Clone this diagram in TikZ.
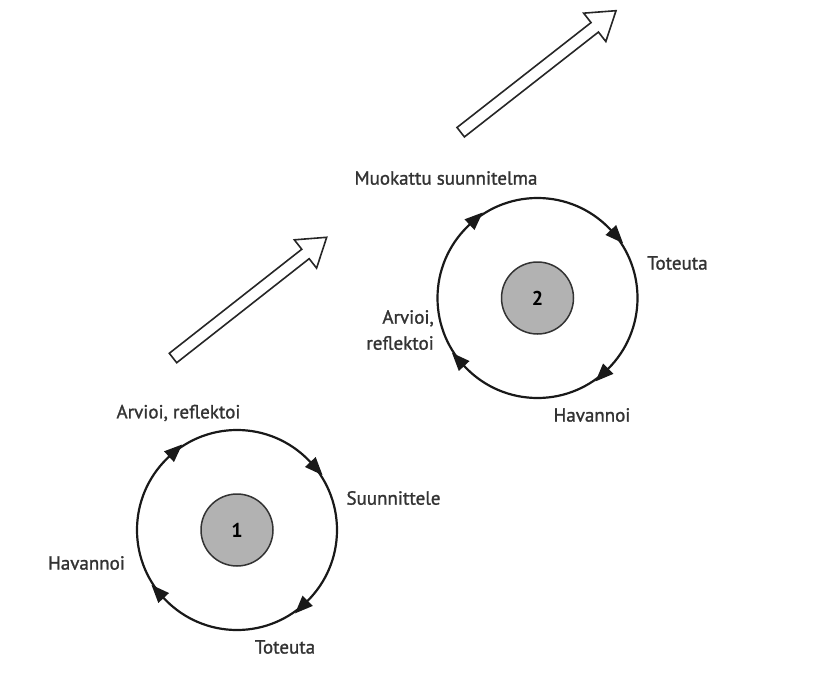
\documentclass[tikz,border=0pt]{standalone}
\usepackage{fontspec}
\setmainfont{PT Sans}
\newfontfamily\lblfont{PT Sans}[FakeBold=1.3]
\usetikzlibrary{calc,arrows.meta,decorations.markings}
\tikzset{
  lbl/.style={font=\lblfont\fontsize{19}{24}\selectfont, text=black!80, inner sep=0pt},
  hub/.style={circle, draw=black!80, line width=1.5pt, fill=black!30, minimum size=72pt, inner sep=0pt, font=\bfseries\fontsize{20}{24}\selectfont},
  cycleline/.style={line width=2.2pt, draw=black!90,
    postaction={decorate},
    decoration={markings,
      mark=at position 0.119 with {\arrow{Triangle[length=18pt,width=14pt,reversed]}},
      mark=at position 0.369 with {\arrow{Triangle[length=18pt,width=14pt,reversed]}},
      mark=at position 0.619 with {\arrow{Triangle[length=18pt,width=14pt,reversed]}},
      mark=at position 0.875 with {\arrow{Triangle[length=18pt,width=14pt,reversed]}}}},
  hollow/.style={draw=black!85, line width=1.6pt, fill=white, line join=miter}
}
\begin{document}
\begin{tikzpicture}[x=1pt,y=-1pt]
\useasboundingbox (0,0) rectangle (821,674);
% cycle 1
\node[hub] (n1) at (237,530) {1};
\draw[cycleline] (n1.center) circle[radius=100pt];
\node[lbl] (a1) at (178.5,413) {Arvioi, reflektoi};
\node[lbl] (s1) at (393.5,498) {Suunnittele};
\node[lbl] (h1) at (86.5,563) {Havannoi};
\node[lbl] (t1) at (285,647) {Toteuta};
% cycle 2
\node[hub] (n2) at (537.5,298) {2};
\draw[cycleline] (n2.center) circle[radius=100pt];
\node[lbl] (m2) at (446,178) {Muokattu suunnitelma};
\node[lbl] (t2) at (677.5,263) {Toteuta};
\node[lbl, align=right, anchor=east] (a2) at (434,330) {Arvioi,\\[2pt]reflektoi};
\node[lbl] (h2) at (592,415) {Havannoi};
% hollow arrows
\coordinate (T1) at (173,358);
\coordinate (P1) at (326.7,237.3);
\coordinate (T2) at (460.7,132.2);
\coordinate (P2) at (616,10.7);
\foreach \T/\P in {T1/P1,T2/P2}{
  \coordinate (B) at ($(\P)!27pt!(\T)$);
  \draw[hollow] ($(\T)!6pt!90:(\P)$) -- ($(B)!6pt!-90:(\T)$) -- ($(B)!18pt!-90:(\T)$) -- (\P)
    -- ($(B)!18pt!90:(\T)$) -- ($(B)!6pt!90:(\T)$) -- ($(\T)!6pt!-90:(\P)$) -- cycle;
}
\end{tikzpicture}
\end{document}
